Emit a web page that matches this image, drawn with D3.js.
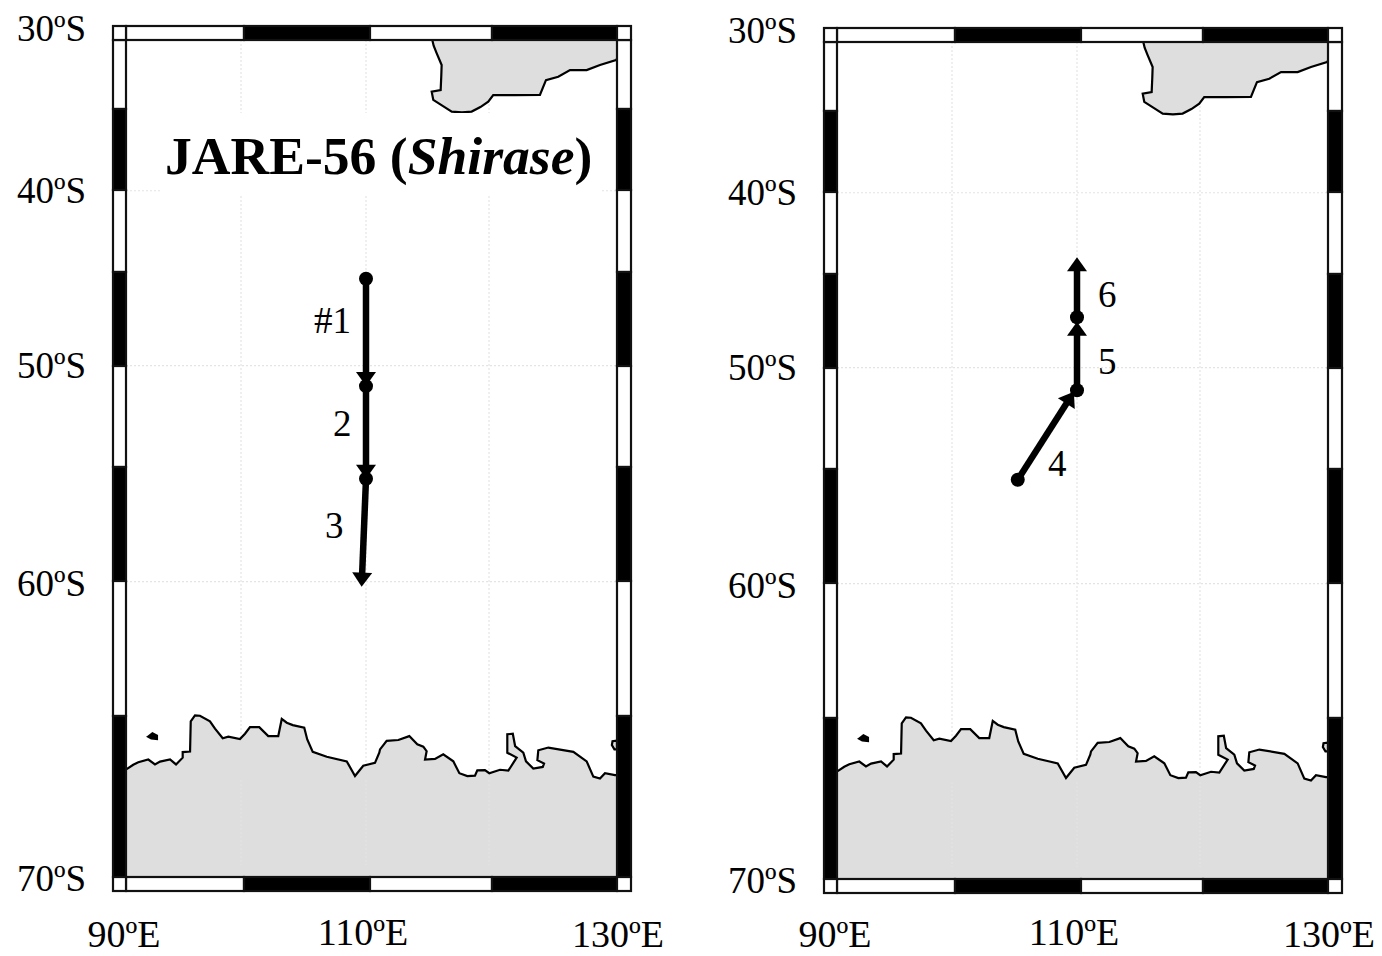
<!DOCTYPE html>
<html>
<head>
<meta charset="utf-8">
<script src="https://cdnjs.cloudflare.com/ajax/libs/d3/7.8.5/d3.min.js"></script>
<style>
  html, body { margin: 0; padding: 0; background: #fff; }
  svg { display: block; }
  text { font-family: "Liberation Serif", serif; fill: #000; }
</style>
</head>
<body>
<svg width="1382" height="956"></svg>
<script>
// tick values and their labels
const latTicks = [30, 40, 50, 60, 70]
const latLabels = ['30ºS', '40ºS', '50ºS', '60ºS', '70ºS']
const lonTicks = [90, 110, 130]
const lonLabels = ['90ºE', '110ºE', '130ºE']
const gridLons = [100, 110, 120]
const gridLats = [40, 50, 60]
const barLons = [90, 100, 110, 120, 130]
const barLats = [30, 35, 40, 45, 50, 55, 60, 65, 70]

// coastlines as [lon, lat]
const australia = [[115.39,30],[115.5,30.4],[115.75,30.93],[116.15,31.74],[116.12,32.5],[116.07,33.45],[115.34,33.56],[115.47,34.12],
  [116.2,34.5],[116.97,34.9],[117.8,34.95],[118.59,34.9],[119.3,34.6],[119.94,34.24],[120.33,33.79],[122,33.8],[123.98,33.79],
  [124.45,32.78],[125.41,32.55],[126.33,32.09],[127.63,32.09],[128.67,31.74],[129.92,31.4],[130,31.3]]
const antarctica = [[90.06,66.78],[90.63,66.64],[91.07,66.56],[91.94,66.47],[92.52,66.63],[92.96,66.54],[93.83,66.47],[94.35,66.63],
  [94.93,66.41],[94.93,66.23],[95.57,66.21],[95.63,65.2],[96,65],[96.43,65.01],[97.3,65.2],[97.74,65.45],[98.41,65.77],[98.9,65.72],
  [99.91,65.8],[100.32,65.62],[100.72,65.4],[101.46,65.4],[102.18,65.7],[102.98,65.7],[103.26,65.12],[103.66,65.25],[104.14,65.33],
  [105.06,65.42],[105.3,65.81],[105.74,66.22],[106.86,66.38],[108.46,66.53],[109.12,67],[109.78,66.67],[110.73,66.58],[111.08,66.25],
  [111.14,66.14],[111.68,65.86],[112.63,65.83],[113.52,65.7],[114.17,65.97],[114.66,66.05],[114.93,66.2],[114.8,66.47],[115.61,66.45],
  [116.28,66.3],[117.1,66.53],[117.59,66.91],[118.24,67],[118.86,66.99],[119.05,66.82],[119.67,66.81],[120.02,66.91],[120.86,66.8],
  [121.51,66.83],[122.16,66.41],[121.43,66.25],[121.43,65.64],[121.86,65.62],[122.04,66.03],[122.68,66.25],[122.89,66.53],[123.46,66.76],
  [124.2,66.71],[124.3,66.6],[123.78,66.49],[123.85,66.17],[124.64,66.08],[126.59,66.22],[127.63,66.53],[128.15,67.02],[128.67,67.08],
  [129.06,66.91],[129.84,66.97],[130,66.97]]
const islandWest = [[91.9,65.72],[92.3,65.6],[92.7,65.68],[92.7,65.8],[92.2,65.78]]
const islandEast = [[130,65.85],[129.65,65.87],[129.6,66],[129.8,66.14],[130,66.14]]

// cruise legs: from, to, leg label
const legsLeft = [[[110,45.25],[110,51.06]], [[110,51.06],[110,55.55]], [[110,55.55],[109.65,60.2]]]
const stopsLeft = [[110,45.25],[110,51.06],[110,55.55]]
const legsRight = [[[105.26,55.5],[109.75,51.25]], [[110,51.17],[110,47.55]], [[110,47.3],[110,43.9]]]
const stopsRight = [[105.26,55.5],[110,51.17],[110,47.3]]
const legNamesLeft = ['#1', '2', '3']
const legNamesRight = ['4', '5', '6']

const svg = d3.select('svg')
const merc = lat => d3.geoMercator().scale(1).translate([0, 0])([0, lat])[1]

// the scan is slightly uneven, so x goes through the measured 10 degree marks
const x = d3.scaleLinear().domain(barLons).range([126, 241, 366, 489, 617])
const y = d3.scaleLinear().domain([merc(30), merc(70)]).range([40, 877])
const barX = d3.scaleLinear().domain(barLons).range([126, 244, 370, 492, 617])
const barY = d3.scaleLinear().domain(barLats).range([40, 109, 190, 272, 366, 467, 581, 716, 877])

const pt = d => [x(d[0]), y(merc(d[1]))]
const line = d3.line().x(d => pt(d)[0]).y(d => pt(d)[1])

function drawPanel(dx, dy, opts) {
  const g = svg.append('g').attr('transform', `translate(${dx},${dy})`)

  // graticule
  g.append('g').selectAll('line').data(gridLons).enter().append('line')
    .attr('x1', d => x(d)).attr('x2', d => x(d)).attr('y1', 40).attr('y2', 877)
    .attr('stroke', '#e4e4e4').attr('stroke-width', 1.2).attr('stroke-dasharray', '2,2')
  g.append('g').selectAll('line').data(gridLats).enter().append('line')
    .attr('y1', d => y(merc(d))).attr('y2', d => y(merc(d))).attr('x1', 126).attr('x2', 617)
    .attr('stroke', '#e4e4e4').attr('stroke-width', 1.2).attr('stroke-dasharray', '2,2')

  // land
  const land = g.append('g')
  land.append('path').attr('d', line(australia.concat([[130, 30]])) + 'Z')
    .attr('fill', '#dedede')
  land.append('path').attr('d', line(antarctica.concat([[130, 70], [90, 70]])) + 'Z')
    .attr('fill', '#dedede')
  // grid shows faintly over the ice
  land.append('g').selectAll('line').data(gridLons).enter().append('line')
    .attr('x1', d => x(d)).attr('x2', d => x(d)).attr('y1', 780).attr('y2', 865)
    .attr('stroke', '#e4e4e4').attr('stroke-width', 1).attr('stroke-dasharray', '2,2')
  land.append('path').attr('d', line(australia)).attr('fill', 'none')
    .attr('stroke', '#000').attr('stroke-width', 2.2)
  land.append('path').attr('d', line(antarctica)).attr('fill', 'none')
    .attr('stroke', '#000').attr('stroke-width', 2.2)
  land.append('path').attr('d', line(islandWest) + 'Z').attr('fill', '#000').attr('stroke', '#000').attr('stroke-width', 2)
  land.append('path').attr('d', line(islandEast) + 'Z').attr('fill', '#dedede')
    .attr('stroke', '#000').attr('stroke-width', 2.2)

  // checkered frame
  const frame = g.append('g').attr('stroke', '#111').attr('stroke-width', 2.2)
  const lonBands = d3.pairs(barLons)
  const latBands = d3.pairs(barLats)
  ;[[26, 40], [877, 891]].forEach(b => {
    frame.append('g').selectAll('rect').data(lonBands).enter().append('rect')
      .attr('x', d => barX(d[0])).attr('width', d => barX(d[1]) - barX(d[0]))
      .attr('y', b[0]).attr('height', b[1] - b[0])
      .attr('fill', (d, i) => i % 2 ? '#000' : '#fff')
  })
  ;[[113, 126], [617, 631]].forEach(b => {
    frame.append('g').selectAll('rect').data(latBands).enter().append('rect')
      .attr('y', d => barY(d[0])).attr('height', d => barY(d[1]) - barY(d[0]))
      .attr('x', b[0]).attr('width', b[1] - b[0])
      .attr('fill', (d, i) => i % 2 ? '#000' : '#fff')
    ;[[26, 40], [877, 891]].forEach(c => {
      frame.append('rect').attr('x', b[0]).attr('width', b[1] - b[0])
        .attr('y', c[0]).attr('height', c[1] - c[0]).attr('fill', '#fff')
    })
  })

  // cruise track
  const track = g.append('g')
  track.selectAll('path.leg').data(opts.legs).enter().append('path')
    .attr('class', 'leg')
    .attr('d', d => {
      const a = pt(d[0]), b = pt(d[1])
      const len = Math.hypot(b[0] - a[0], b[1] - a[1])
      const t = (len - 12) / len
      return d3.line()([a, [a[0] + (b[0] - a[0]) * t, a[1] + (b[1] - a[1]) * t]])
    })
    .attr('stroke', '#000').attr('stroke-width', 6.5).attr('fill', 'none')
  track.selectAll('path.head').data(opts.legs).enter().append('path')
    .attr('class', 'head')
    .attr('d', d3.symbol().type({ draw(c) { c.moveTo(0, 0); c.lineTo(-14, -10); c.lineTo(-14, 10); c.closePath() } }))
    .attr('transform', d => {
      const a = pt(d[0]), b = pt(d[1])
      return `translate(${b[0]},${b[1]}) rotate(${Math.atan2(b[1] - a[1], b[0] - a[0]) * 180 / Math.PI})`
    })
  track.selectAll('circle').data(opts.stops).enter().append('circle')
    .attr('cx', d => pt(d)[0]).attr('cy', d => pt(d)[1]).attr('r', 7).attr('fill', '#000')

  // axis labels
  g.append('g').selectAll('text').data(latLabels).enter().append('text')
    .attr('x', 17).attr('y', (d, i) => y(merc(latTicks[i])) + [1, 12, 12, 14, 14][i])
    .attr('font-size', 37).text(d => d)
  g.append('g').selectAll('text').data(lonLabels).enter().append('text')
    .attr('x', (d, i) => x(lonTicks[i]) + [-2, -3, 1][i]).attr('y', (d, i) => opts.lonY[i])
    .attr('text-anchor', 'middle').attr('font-size', 38).text(d => d)

  // leg numbers
  g.append('g').selectAll('text').data(opts.names).enter().append('text')
    .attr('x', (d, i) => opts.nameX[i]).attr('y', (d, i) => opts.nameY[i])
    .attr('font-size', 37).text(d => d)

  return g
}

const left = drawPanel(0, 0, {
  legs: legsLeft, stops: stopsLeft, names: legNamesLeft,
  nameX: [314, 333, 325], nameY: [333, 436, 538],
  lonY: [947, 945, 947]
})
drawPanel(711, 2, {
  legs: legsRight, stops: stopsRight, names: legNamesRight,
  nameX: [337, 387, 387], nameY: [474, 372, 305],
  lonY: [945, 943, 945]
})

// title sits on a white box that hides the grid
left.append('rect').attr('x', 160).attr('y', 113).attr('width', 440).attr('height', 82).attr('fill', '#fff')
const title = left.append('text').attr('x', 165).attr('y', 174)
  .attr('font-size', 53.6).attr('font-weight', 'bold')
title.append('tspan').text('JARE-56 (')
title.append('tspan').attr('font-style', 'italic').text('Shirase')
title.append('tspan').text(')')
</script>
</body>
</html>
